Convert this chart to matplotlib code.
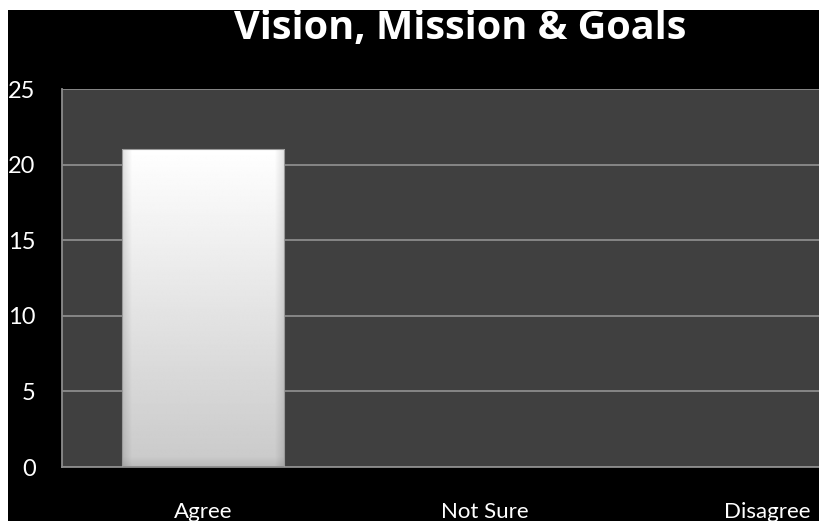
import numpy as np
import matplotlib
matplotlib.use("Agg")
import matplotlib.pyplot as plt
from matplotlib.patches import Rectangle

categories = ["Agree", "Not Sure", "Disagree"]
responses = [21, 0, 0]
y_ticks = [0, 5, 10, 15, 20, 25]

plt.rcParams["font.family"] = ["Lato", "DejaVu Sans"]

W, H = 819, 521
fig = plt.figure(figsize=(W / 100, H / 100), dpi=100, facecolor="white")

# black slide background, leaving a thin white margin top/left
fig.patches.append(Rectangle((8 / W, 0), 1, (H - 10) / H, transform=fig.transFigure,
                             facecolor="black", edgecolor="none", zorder=-10))

ax = fig.add_axes([62 / W, 54 / H, 846 / W, 378 / H])
ax.set_facecolor("#404040")
ax.set_xlim(-0.5, 2.5)
ax.set_ylim(0, 25)
ax.set_yticks(y_ticks)
ax.set_yticklabels([str(t) for t in y_ticks], color="white", fontsize=17)
ax.set_xticks(range(len(categories)))
ax.set_xticklabels(categories, color="white", fontsize=16)
ax.tick_params(axis="y", length=0, pad=19)
ax.tick_params(axis="x", length=0, pad=25)
ax.grid(axis="y", color="#8c8c8c", linewidth=1.3)
ax.set_axisbelow(True)
for side in ["top", "right"]:
    ax.spines[side].set_visible(False)
for side in ["left", "bottom"]:
    ax.spines[side].set_color("#8c8c8c")
    ax.spines[side].set_linewidth(1.3)

bars = ax.bar(range(len(categories)), responses, width=0.575,
              color="none", edgecolor="#9a9a9a", linewidth=0.8, zorder=3)

# white-to-grey gradient fill with soft bevelled sides
ny, nx = 200, 200
v = np.linspace(0, 1, ny)[:, None]           # 0 bottom -> 1 top
base = 0.79 + 0.21 * v
xs = np.linspace(0, 1, nx)[None, :]
edge = np.minimum(xs, 1 - xs)
side_shade = 1 - 0.12 * np.clip(1 - edge / 0.06, 0, 1)
bottom_shade = 1 - 0.08 * np.clip(1 - v / 0.03, 0, 1)
shade = np.clip(base * side_shade * bottom_shade, 0, 1)
for b in bars:
    if b.get_height() <= 0:
        continue
    x0, w, h = b.get_x(), b.get_width(), b.get_height()
    im = ax.imshow(shade, cmap="gray", vmin=0, vmax=1, origin="lower",
                   extent=[x0, x0 + w, 0, h], aspect="auto", zorder=2.5,
                   interpolation="bilinear")
    im.set_clip_path(b)

ax.set_xlim(-0.5, 2.5)
ax.set_ylim(0, 25)

fig.text(460 / W, (H - 39) / H, "Vision, Mission & Goals", color="white",
         fontsize=28.5, fontweight="bold", ha="center", va="baseline",
         family=["Open Sans", "DejaVu Sans"])

fig.savefig("out.png", dpi=100, facecolor="white")
